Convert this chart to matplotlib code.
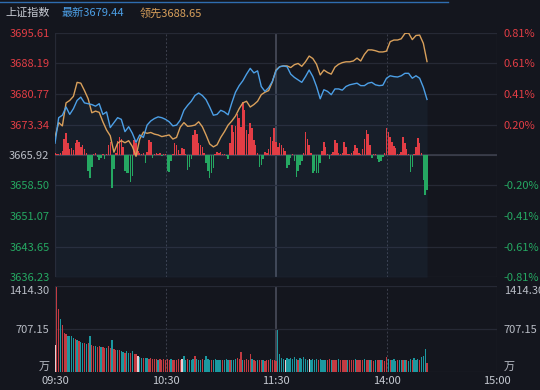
import matplotlib
matplotlib.use("Agg")
import matplotlib.pyplot as plt
from matplotlib.lines import Line2D
import numpy as np

plt.rcParams["font.family"] = ["Noto Sans CJK SC", "DejaVu Sans"]
plt.rcParams["axes.unicode_minus"] = False

# ------------------------------------------------------------------
# data
# ------------------------------------------------------------------
TITLE = "上证指数"
LAST_LABEL = "最新"
LEAD_LABEL = "领先"
PREV_CLOSE = 3665.92

PRICE_TICKS = [3636.23, 3643.65, 3651.07, 3658.50, 3665.92,
               3673.34, 3680.77, 3688.19, 3695.61]
VOL_TICKS = [0, 707.15, 1414.30]
VOL_TICK_LABELS = ["万", "707.15", "1414.30"]
TIME_TICKS = [0, 60, 120, 180, 240]
TIME_LABELS = ["09:30", "10:30", "11:30", "14:00", "15:00"]

# price lines, one point every 2 trading minutes
LINE_MINUTES = np.arange(0, 203, 2)
LAST_PRICE = [
    3668.8, 3675.0, 3675.6, 3677.6, 3675.8, 3677.2, 3679.2, 3680.0, 3678.6, 3678.4,
    3678.2, 3677.8, 3678.4, 3675.8, 3676.4, 3672.6, 3673.8, 3675.0, 3674.6, 3671.6,
    3672.8, 3671.2, 3669.0, 3670.8, 3670.2, 3673.2, 3674.2, 3674.8, 3675.2, 3675.0,
    3674.6, 3674.0, 3673.0, 3673.2, 3674.4, 3676.8, 3678.0, 3679.0, 3680.4, 3681.0,
    3680.4, 3679.4, 3677.6, 3675.6, 3675.8, 3676.8, 3676.4, 3675.7, 3678.6, 3681.2,
    3682.8, 3684.0, 3685.6, 3687.0, 3685.9, 3686.4, 3682.6, 3681.4, 3682.3, 3683.8,
    3686.4, 3687.4, 3687.6, 3687.4, 3685.6, 3684.8, 3684.2, 3683.6, 3685.0, 3686.6,
    3685.0, 3682.6, 3679.6, 3681.8, 3681.4, 3680.6, 3682.0, 3682.0, 3681.7, 3682.6,
    3683.0, 3683.2, 3683.4, 3682.8, 3682.8, 3683.4, 3683.6, 3683.0, 3682.8, 3682.9,
    3684.6, 3685.2, 3685.0, 3684.9, 3685.2, 3685.8, 3685.8, 3684.6, 3685.2, 3684.6,
    3682.4, 3679.44,
]
LEAD_PRICE = [
    3670.3, 3673.8, 3673.0, 3678.6, 3679.2, 3680.2, 3683.6, 3683.4, 3681.6, 3679.6,
    3676.2, 3676.6, 3676.3, 3674.0, 3672.0, 3670.6, 3666.6, 3668.8, 3669.4, 3668.9,
    3669.4, 3668.0, 3665.6, 3669.8, 3671.5, 3671.2, 3671.4, 3671.0, 3670.8, 3670.4,
    3670.6, 3670.8, 3669.8, 3670.2, 3672.7, 3673.8, 3672.9, 3673.0, 3673.2, 3674.0,
    3672.8, 3670.8, 3668.6, 3667.9, 3668.4, 3670.2, 3671.6, 3673.2, 3674.2, 3675.4,
    3677.2, 3678.6, 3679.0, 3677.6, 3678.2, 3679.0, 3680.6, 3681.2, 3681.6, 3683.7,
    3686.6, 3687.4, 3687.6, 3687.6, 3687.2, 3687.9, 3688.2, 3687.5, 3688.6, 3690.0,
    3689.4, 3688.0, 3685.4, 3686.6, 3686.0, 3685.6, 3687.3, 3688.0, 3688.4, 3688.6,
    3688.6, 3688.8, 3689.5, 3688.8, 3690.4, 3691.5, 3691.5, 3691.3, 3691.0, 3691.0,
    3691.2, 3693.5, 3693.9, 3693.9, 3694.2, 3695.5, 3695.6, 3694.0, 3695.0, 3695.1,
    3693.1, 3688.65,
]

# per-minute red/green strength bars (index points around previous close)
BAR_MINUTES = np.arange(203)
STRENGTH = [
    0.5, 0.3, 0.2, 0.4, 1.0, 4.0, 5.4, 3.0, 1.5, 1.7,
    1.2, 3.0, 3.6, 3.2, 2.0, 2.4, 1.5, 0.5, -4.0, -5.6,
    -3.0, 0.3, 0.5, -0.5, -1.2, -0.8, 0.3, -1.0, 0.2, 2.5,
    3.2, -8.0, -3.5, 0.5, 3.5, 4.4, 3.8, 2.0, -4.0, -4.3,
    -4.5, -6.5, -5.0, 3.6, 3.0, 1.0, 0.4, 0.2, 0.5, -2.0,
    0.8, 3.6, 3.2, -0.8, 0.3, 0.5, 0.2, 0.4, -0.3, 0.3,
    0.2, -4.0, -4.2, -1.5, 0.3, 2.9, 2.5, 1.2, 0.3, 1.7,
    1.5, 0.2, -3.6, -3.0, -1.0, 4.9, 6.0, 5.0, 3.0, 2.4,
    2.0, 0.5, -2.0, -4.0, -5.6, -4.5, -3.2, 0.2, 0.8, 0.6,
    0.8, 0.3, 0.2, -0.3, -1.0, 3.0, 7.3, 5.5, 7.0, 10.0,
    9.0, 6.9, 12.9, 11.0, 6.1, 5.0, 7.7, 6.5, 3.6, 2.5,
    0.5, -2.9, -2.5, -1.0, 0.8, 0.5, 1.5, 4.4, 3.5, 6.5,
    3.2, 2.0, 3.0, 2.4, 1.8, 1.0, -3.2, -2.5, -0.8, 0.3,
    -1.5, -5.3, -4.0, -2.4, -1.5, 0.5, 5.6, 4.0, 2.5, 0.5,
    -4.5, -4.0, -4.5, -4.3, -2.0, 1.0, 3.2, 2.0, 0.3, -1.0,
    0.3, 0.8, 3.6, 2.8, 0.5, 0.3, 0.5, 3.2, 2.0, 0.3,
    0.2, 0.4, 1.0, 2.4, 1.8, 0.5, 0.3, 1.5, 4.0, 6.1,
    5.0, 2.5, -0.8, 0.2, 0.3, -1.0, -1.7, -1.5, -0.5, 0.5,
    6.5, 5.5, 4.5, 3.2, 2.2, 1.6, 0.3, 0.2, 0.8, 4.4,
    3.0, 1.5, 0.3, -4.1, -3.0, 0.3, 2.0, 4.1, 3.0, 0.5,
    -6.0, -9.7, -8.5,
]

# per-minute volume (万) and bar tone: r = up, g = down, w = flat/auction
VOLUME = [
    440, 1400, 1035, 870, 765, 640, 630, 600, 595, 585,
    560, 545, 520, 505, 500, 480, 470, 465, 470, 600,
    450, 435, 425, 415, 425, 405, 410, 400, 395, 420,
    400, 520, 385, 370, 365, 355, 350, 335, 320, 340,
    315, 305, 345, 300, 290, 265, 245, 235, 230, 225,
    230, 220, 225, 215, 210, 220, 205, 215, 200, 210,
    205, 215, 200, 210, 195, 205, 200, 210, 200, 215,
    270, 200, 210, 195, 205, 215, 270, 210, 200, 205,
    215, 200, 265, 210, 195, 205, 200, 215, 200, 190,
    205, 195, 200, 210, 190, 200, 205, 195, 210, 230,
    215, 330, 200, 190, 210, 205, 300, 210, 195, 185,
    200, 190, 205, 195, 185, 200, 190, 210, 195, 200,
    185, 685, 300, 230, 215, 205, 225, 210, 235, 215,
    240, 220, 205, 230, 215, 245, 210, 200, 220, 205,
    215, 200, 210, 195, 215, 200, 205, 190, 200, 210,
    195, 205, 190, 200, 210, 195, 190, 205, 200, 195,
    205, 190, 200, 215, 195, 205, 190, 200, 210, 195,
    200, 190, 205, 185, 195, 200, 190, 205, 195, 185,
    250, 220, 200, 190, 210, 185, 200, 195, 190, 205,
    190, 200, 185, 210, 195, 230, 200, 215, 190, 240,
    270, 380, 150,
]
VOLUME_TONE = (
    "wrrgrrrggg" "grgrggrgrg" "rrgrrgrrgr" "rgrrgrggrg" "grgrrwggrg"
    "grrrrrgrrr" "rrrgrrrrrw" "ggrgggrggg" "rggggrgggg" "grgggrgggr"
    "rrgrrrrgrr" "grrgrrrgrr" "rggggwgggg" "ggrgggggwg" "gggrggggrr"
    "grrrgrrrrg" "rrrgrrrrgr" "rgrrgrrgrr" "rgrgggrggr" "grggrgggrg"
    "ggr"
)

# ------------------------------------------------------------------
# style
# ------------------------------------------------------------------
BG = "#14161e"
GRID = "#262935"
GRID_MID = "#3d404d"
TXT = "#b9bdc6"
UP = "#e23d45"
DOWN = "#25a862"
BLUE = "#4c9fe6"
ORANGE = "#d9a05b"
TONES = {"r": "#c23b42", "g": "#1b98a0", "w": "#e6cfd2"}


def style_panel(ax):
    ax.set_facecolor(BG)
    for s in ax.spines.values():
        s.set_visible(False)
    ax.tick_params(length=0)
    ax.set_xlim(0, 240)
    ax.grid(axis="y", color=GRID, linewidth=0.9)
    ax.set_axisbelow(True)
    for m in TIME_TICKS:
        if m in (60, 180):
            ax.axvline(m, color=GRID_MID, lw=0.7, ls=(0, (2, 2)), zorder=0)
        elif m == 120:
            ax.axvline(m, color="#4a4d5b", lw=1.2, zorder=0)
        else:
            ax.axvline(m, color=GRID, lw=0.9, zorder=0)


fig = plt.figure(figsize=(5.4, 3.9), dpi=100, facecolor=BG)

# --- price panel ---
ax = fig.add_axes([55 / 540, 1 - 277 / 390, 442 / 540, 244 / 390])
style_panel(ax)
ax.set_ylim(PRICE_TICKS[0], PRICE_TICKS[-1])
ax.set_yticks(PRICE_TICKS)
ax.set_yticklabels([f"{v:.2f}" for v in PRICE_TICKS], fontsize=8)
for lab, v in zip(ax.get_yticklabels(), PRICE_TICKS):
    lab.set_color(UP if v > PREV_CLOSE + 0.01 else DOWN if v < PREV_CLOSE - 0.01 else TXT)
ax.tick_params(axis="y", pad=4)
ax.set_xticks([])
ax.axhline(PREV_CLOSE, color="#3f4250", lw=1.1, zorder=1)

strength = np.array(STRENGTH)
ax.bar(BAR_MINUTES, strength, bottom=PREV_CLOSE, width=0.8,
       color=np.where(strength >= 0, UP, DOWN), linewidth=0, zorder=2)

ax.fill_between(LINE_MINUTES, LAST_PRICE, PRICE_TICKS[0],
                color=BLUE, alpha=0.06, linewidth=0, zorder=1)
ax.plot(LINE_MINUTES, LEAD_PRICE, color=ORANGE, lw=1.0, zorder=3)
ax.plot(LINE_MINUTES, LAST_PRICE, color=BLUE, lw=1.0, zorder=4)

ax_r = ax.twinx()
ax_r.set_ylim(ax.get_ylim())
ax_r.set_yticks(PRICE_TICKS)
pct = [(v / PREV_CLOSE - 1) * 100 for v in PRICE_TICKS]
ax_r.set_yticklabels(["" if abs(p) < 0.005 else f"{p:.2f}%" for p in pct], fontsize=8)
for lab, p in zip(ax_r.get_yticklabels(), pct):
    lab.set_color(UP if p > 0 else DOWN)
ax_r.tick_params(length=0, pad=5)
for s in ax_r.spines.values():
    s.set_visible(False)

# --- volume panel ---
axv = fig.add_axes([55 / 540, 1 - 372 / 390, 442 / 540, 86 / 390])
style_panel(axv)
axv.set_ylim(0, VOL_TICKS[-1])
axv.bar(BAR_MINUTES, VOLUME, width=0.7,
        color=[TONES[c] for c in VOLUME_TONE], linewidth=0, zorder=2)
axv.set_yticks(VOL_TICKS)
axv.set_yticklabels(VOL_TICK_LABELS, fontsize=8, color=TXT)
labs = axv.get_yticklabels()
labs[0].set_va("bottom")
labs[-1].set_va("top")
axv.tick_params(axis="y", pad=4)
axv.set_xticks(TIME_TICKS)
axv.set_xticklabels(TIME_LABELS, fontsize=8, color="#c6cad2")
axv.tick_params(axis="x", pad=3)

axv_r = axv.twinx()
axv_r.set_ylim(axv.get_ylim())
axv_r.set_yticks(VOL_TICKS)
axv_r.set_yticklabels(VOL_TICK_LABELS, fontsize=8, color=TXT)
rl = axv_r.get_yticklabels()
rl[0].set_va("bottom")
rl[-1].set_va("top")
axv_r.tick_params(length=0, pad=5)
for s in axv_r.spines.values():
    s.set_visible(False)

# --- header ---
fig.add_artist(Line2D([0, 0.83], [1 - 2 / 390] * 2, color="#2f6db0", lw=1.0))
fig.text(5 / 540, 1 - 13 / 390, TITLE, color="#c8ccd4", fontsize=8, va="center")
fig.text(62 / 540, 1 - 13 / 390, f"{LAST_LABEL}{LAST_PRICE[-1]:.2f}",
         color=BLUE, fontsize=8, va="center")
fig.text(140 / 540, 1 - 13 / 390, f"{LEAD_LABEL}{LEAD_PRICE[-1]:.2f}",
         color=ORANGE, fontsize=8, va="center")

fig.savefig("out.png", dpi=100, facecolor=BG)
